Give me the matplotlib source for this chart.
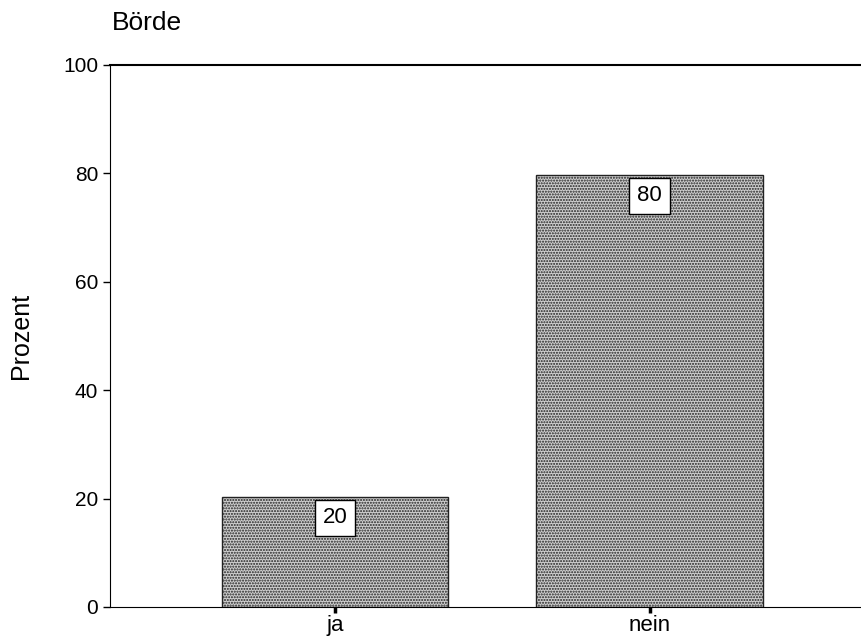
import matplotlib.pyplot as plt

# Daten
categories = ['ja', 'nein']
percent = [20.3, 79.7]
labels = ['20', '80']

plt.rcParams['font.family'] = ['Liberation Sans', 'DejaVu Sans']
plt.rcParams['hatch.linewidth'] = 1.0
plt.rcParams['hatch.color'] = '#222222'

fig = plt.figure(figsize=(8.61, 6.43), dpi=100)
ax = fig.add_axes([0.1278, 0.056, 0.8722 + 0.01, 0.843])

x = range(len(categories))
bars = ax.bar(x, percent, width=0.72, color='#cfcfcf', edgecolor='#222222',
              hatch='......', linewidth=1.0)

# Werte in weissen Kaestchen
for bar, lab in zip(bars, labels):
    ax.annotate(lab, (bar.get_x() + bar.get_width() / 2, bar.get_height()),
                xytext=(0, -15), textcoords='offset points', ha='center', va='center',
                fontsize=16, bbox=dict(boxstyle='square,pad=0.35', fc='white', ec='black', lw=1))

ax.set_xlim(-0.716, 1.70)
ax.set_ylim(0, 100)
ax.set_yticks([0, 20, 40, 60, 80, 100])
ax.set_xticks(list(x))
ax.set_xticklabels(categories)
ax.tick_params(axis='y', labelsize=15, length=5, width=1)
ax.tick_params(axis='x', labelsize=16, width=2.5, length=4, pad=2)

ax.spines['right'].set_visible(False)
ax.spines['top'].set_linewidth(1.5)

ax.set_ylabel('Prozent', fontsize=18, labelpad=22)
fig.text(0.13, 0.965, 'Börde', fontsize=19, ha='left', va='center')

plt.savefig('out.png', dpi=100)
